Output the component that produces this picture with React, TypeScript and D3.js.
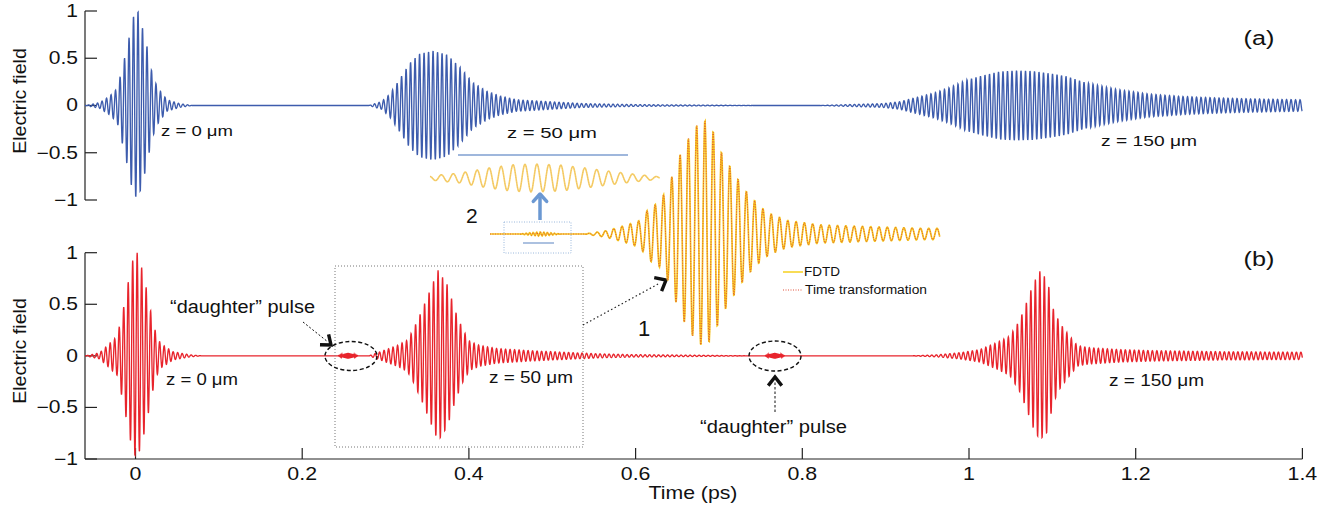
import * as d3 from 'd3';

// axis ticks
const xTicks = [0, 0.2, 0.4, 0.6, 0.8, 1, 1.2, 1.4];
const yTicks = [-1, -0.5, 0, 0.5, 1];

// carrier periods (ps)
const carrierPeriod = 0.0054;
const daughterPeriod = 0.0012;
const insetPeriod = 0.0056;
const inset2Period = 0.052; // normalised units of the small inset

// envelope knots: time (ps), amplitude, and the pulse centre
// panel (a): free-space propagation
const a0T = [-0.06, -0.043, -0.031, -0.022, -0.014, -0.008, -0.003, 0.003, 0.008, 0.014, 0.019, 0.025, 0.03, 0.038, 0.053, 0.068];
const a0A = [0, 0.03, 0.1, 0.18, 0.47, 0.71, 0.94, 1.0, 0.84, 0.62, 0.38, 0.22, 0.15, 0.06, 0.02, 0];
const a0C = 0.003;
const a1T = [0.28, 0.295, 0.305, 0.317, 0.329, 0.341, 0.357, 0.374, 0.39, 0.405, 0.422, 0.437, 0.458, 0.497, 0.537, 0.597, 0.65, 0.75];
const a1A = [0, 0.04, 0.12, 0.28, 0.45, 0.55, 0.58, 0.54, 0.4, 0.24, 0.15, 0.1, 0.06, 0.04, 0.02, 0.01, 0.006, 0];
const a1C = 0.357;
const a2T = [0.82, 0.857, 0.897, 0.917, 0.957, 0.977, 0.997, 1.017, 1.037, 1.057, 1.077, 1.097, 1.117, 1.137, 1.178, 1.217, 1.257, 1.297, 1.337, 1.4];
const a2A = [0, 0.01, 0.02, 0.04, 0.13, 0.19, 0.27, 0.32, 0.36, 0.37, 0.365, 0.34, 0.31, 0.25, 0.17, 0.12, 0.095, 0.08, 0.07, 0.06];
const a2C = 1.057;

// panel (b): time-varying medium
const b0T = [-0.06, -0.043, -0.031, -0.022, -0.014, -0.008, -0.003, 0.002, 0.008, 0.014, 0.019, 0.025, 0.03, 0.045, 0.065, 0.08];
const b0A = [0, 0.03, 0.12, 0.19, 0.48, 0.75, 0.94, 1.0, 0.84, 0.62, 0.4, 0.2, 0.12, 0.04, 0.01, 0];
const b0C = 0.002;
const bd1T = [0.243, 0.25, 0.255, 0.26, 0.267];
const bd1A = [0, 0.018, 0.03, 0.018, 0];
const bd1C = 0.255;
const b1T = [0.28, 0.297, 0.314, 0.326, 0.333, 0.344, 0.354, 0.363, 0.374, 0.384, 0.393, 0.401, 0.413, 0.434, 0.473, 0.513, 0.554, 0.593, 0.674, 0.74];
const b1A = [0, 0.05, 0.1, 0.15, 0.25, 0.45, 0.65, 0.83, 0.69, 0.43, 0.25, 0.14, 0.1, 0.07, 0.05, 0.035, 0.02, 0.012, 0.006, 0];
const b1C = 0.363;
const bd2T = [0.755, 0.762, 0.767, 0.772, 0.779];
const bd2A = [0, 0.018, 0.03, 0.018, 0];
const bd2C = 0.767;
const b2T = [0.93, 0.962, 0.989, 1.013, 1.034, 1.049, 1.061, 1.07, 1.077, 1.085, 1.094, 1.101, 1.109, 1.118, 1.13, 1.142, 1.181, 1.221, 1.301, 1.4];
const b2A = [0, 0.01, 0.03, 0.06, 0.13, 0.19, 0.35, 0.54, 0.7, 0.82, 0.74, 0.46, 0.32, 0.22, 0.1, 0.08, 0.06, 0.05, 0.04, 0.035];
const b2C = 1.085;

// inset 1 (zoom of the dotted box), normalised amplitude
const idT = [0.256, 0.264, 0.27, 0.276, 0.284];
const idA = [0, 0.012, 0.018, 0.012, 0];
const idC = 0.27;
const imT = [0.3, 0.315, 0.3285, 0.3373, 0.344, 0.3494, 0.3555, 0.3596, 0.3656, 0.3704, 0.3758, 0.3812, 0.3866, 0.3927, 0.398, 0.4028, 0.4082, 0.4136, 0.4197, 0.4251, 0.4365, 0.4588, 0.481, 0.504, 0.5284, 0.54];
const imA = [0, 0.03, 0.08, 0.12, 0.24, 0.27, 0.39, 0.53, 0.74, 0.85, 0.96, 1.0, 0.91, 0.71, 0.6, 0.5, 0.39, 0.31, 0.23, 0.18, 0.12, 0.08, 0.07, 0.06, 0.05, 0.05];
const imC = 0.3812;

// inset 2 (zoom of the daughter pulse)
const i2T = [0, 0.03, 0.13, 0.248, 0.361, 0.465, 0.565, 0.683, 0.796, 0.9, 0.987, 1];
const i2A = [0.12, 0.2, 0.35, 0.7, 0.95, 1, 0.93, 0.7, 0.45, 0.25, 0.1, 0.08];
const i2C = 0.465;

type Pulse = { t: number[]; a: number[]; c: number; p?: number };

const FONT = 'Liberation Sans, Arial, Helvetica, sans-serif';
const BLUE = '#3d5cad';
const RED = '#e8242c';

function buildTrace(pulses: Pulse[], t0: number, t1: number, period: number, steps = 20): [number, number][] {
  const envs = pulses.map((p) => ({
    env: d3.scaleLinear().domain(p.t).range(p.a).clamp(true),
    lo: p.t[0],
    hi: p.t[p.t.length - 1],
    c: p.c,
    per: p.p || period,
  }));
  const minPer = d3.min(envs, (e) => e.per) as number;
  const step = Math.min(period / steps, minPer / 6);
  return d3.range(t0, t1 + 1e-9, step).map((t) => {
    let v = 0;
    envs.forEach((e) => {
      if (t >= e.lo && t <= e.hi) v += e.env(t) * Math.cos((2 * Math.PI * (t - e.c)) / e.per);
    });
    return [t, v];
  });
}

function chevron(tx: number, ty: number, fx: number, fy: number, len: number, spread: number) {
  const a = Math.atan2(ty - fy, tx - fx);
  const s = (spread * Math.PI) / 180;
  const p1 = [tx - len * Math.cos(a - s), ty - len * Math.sin(a - s)];
  const p2 = [tx - len * Math.cos(a + s), ty - len * Math.sin(a + s)];
  return `${p1[0]},${p1[1]} ${tx},${ty} ${p2[0]},${p2[1]}`;
}

const Label = ({ x, y, size, sx = 1, anchor = 'start', rotate = 0, len, children }: any) => (
  <text
    transform={`translate(${x},${y}) rotate(${rotate}) scale(${sx},1)`}
    fontSize={size}
    textAnchor={anchor}
    dominantBaseline="central"
    fontFamily={FONT}
    fill="#111"
    textLength={len}
    lengthAdjust={len ? 'spacingAndGlyphs' : undefined}
  >
    {children}
  </text>
);

export default function App() {
  const x = d3.scaleLinear().domain([-0.0606, 1.4]).range([85, 1302.4]);
  const yA = d3.scaleLinear().domain([-1, 1]).range([200, 11]);
  const yB = d3.scaleLinear().domain([-1, 1]).range([459, 252.7]);

  const traceA = buildTrace(
    [
      { t: a0T, a: a0A, c: a0C },
      { t: a1T, a: a1A, c: a1C },
      { t: a2T, a: a2A, c: a2C },
    ],
    -0.0606, 1.4, carrierPeriod,
  );
  const traceB = buildTrace(
    [
      { t: b0T, a: b0A, c: b0C },
      { t: bd1T, a: bd1A, c: bd1C, p: daughterPeriod },
      { t: b1T, a: b1A, c: b1C },
      { t: bd2T, a: bd2A, c: bd2C, p: daughterPeriod },
      { t: b2T, a: b2A, c: b2C },
    ],
    -0.0606, 1.4, carrierPeriod,
  );

  const xi = d3.scaleLinear().domain([0.236, 0.54]).range([490, 940]);
  const yi = d3.scaleLinear().domain([-1, 1]).range([348, 120]);
  const traceI = buildTrace(
    [
      { t: idT, a: idA, c: idC, p: daughterPeriod * 2 },
      { t: imT, a: imA, c: imC },
    ],
    0.236, 0.54, insetPeriod,
  );
  const xi2 = d3.scaleLinear().domain([0, 1]).range([430, 660]);
  const yi2 = d3.scaleLinear().domain([-1, 1]).range([192, 164]);
  const traceI2 = buildTrace([{ t: i2T, a: i2A, c: i2C }], 0, 1, inset2Period, 24);

  const lineA = d3.line<[number, number]>().x((d) => x(d[0])).y((d) => yA(d[1]));
  const lineB = d3.line<[number, number]>().x((d) => x(d[0])).y((d) => yB(d[1]));
  const lineI = d3.line<[number, number]>().x((d) => xi(d[0])).y((d) => yi(d[1]));
  const lineI2 = d3.line<[number, number]>().x((d) => xi2(d[0])).y((d) => yi2(d[1])).curve(d3.curveCardinal);

  const fmt = (v: number) => (v < 0 ? '\u2212' + String(-v) : String(v));
  const axisCol = '#222';

  return (
    <svg width={1331} height={506} style={{ position: 'absolute', left: 0, top: 0, background: '#fff' }}>
      {/* axes panel (a) */}
      <line x1={85} x2={85} y1={yA(1)} y2={yA(-1)} stroke={axisCol} strokeWidth={1.2} />
      {yTicks.map((t) => (
        <g key={'ya' + t}>
          <line x1={85} x2={97} y1={yA(t)} y2={yA(t)} stroke={axisCol} strokeWidth={1.2} />
          <Label x={78} y={yA(t)} size={17.5} sx={1.2} anchor="end">{fmt(t)}</Label>
        </g>
      ))}
      {/* axes panel (b) */}
      <line x1={85} x2={85} y1={yB(1)} y2={yB(-1)} stroke={axisCol} strokeWidth={1.2} />
      <line x1={85} x2={x(1.4)} y1={yB(-1)} y2={yB(-1)} stroke={axisCol} strokeWidth={1.2} />
      {yTicks.map((t) => (
        <g key={'yb' + t}>
          <line x1={85} x2={97} y1={yB(t)} y2={yB(t)} stroke={axisCol} strokeWidth={1.2} />
          <Label x={78} y={yB(t)} size={17.5} sx={1.2} anchor="end">{fmt(t)}</Label>
        </g>
      ))}
      {xTicks.map((t) => (
        <g key={'x' + t}>
          <line x1={x(t)} x2={x(t)} y1={459} y2={448} stroke={axisCol} strokeWidth={1.2} />
          <Label x={x(t)} y={474} size={17.5} sx={1.22} anchor="middle">{String(t)}</Label>
        </g>
      ))}
      <Label x={693} y={493} size={18} sx={1.18} anchor="middle">Time (ps)</Label>
      <Label x={20} y={101} size={18.5} sx={1.06} anchor="middle" rotate={-90}>Electric field</Label>
      <Label x={20} y={351} size={18.5} sx={1.06} anchor="middle" rotate={-90}>Electric field</Label>
      <Label x={1259} y={38} size={21} sx={1.2} anchor="middle">(a)</Label>
      <Label x={1259} y={259} size={21} sx={1.2} anchor="middle">(b)</Label>

      {/* traces */}
      <path d={lineA(traceA) || ''} fill="none" stroke={BLUE} strokeWidth={1.35} />
      <path d={lineB(traceB) || ''} fill="none" stroke={RED} strokeWidth={1.35} />

      {/* z labels */}
      <Label x={161} y={130} size={15.5} len={72}>z = 0 μm</Label>
      <Label x={507} y={132} size={15.5} len={90}>z = 50 μm</Label>
      <Label x={1101} y={140} size={15.5} len={96}>z = 150 μm</Label>
      <Label x={166} y={379} size={16} len={72}>z = 0 μm</Label>
      <Label x={489} y={377} size={16} len={84}>z = 50 μm</Label>
      <Label x={1109} y={380} size={16} len={95}>z = 150 μm</Label>

      {/* dotted box and pointer to inset 1 */}
      <rect x={335} y={266} width={248} height={181} fill="none" stroke="#777" strokeWidth={1} strokeDasharray="1 2" />
      <line x1={583} y1={325} x2={660} y2={283} stroke="#222" strokeWidth={1.2} strokeDasharray="1.5 2.5" />
      <polyline points={chevron(666, 280, 583, 325, 12, 40)} fill="none" stroke="#111" strokeWidth={3.4} />

      {/* daughter pulse markers */}
      <ellipse cx={351} cy={356} rx={26} ry={14.5} fill="none" stroke="#111" strokeWidth={1.4} strokeDasharray="4 2.5" />
      <ellipse cx={775} cy={356} rx={26} ry={15} fill="none" stroke="#111" strokeWidth={1.4} strokeDasharray="4 2.5" />
      <line x1={303} y1={322} x2={328} y2={342} stroke="#111" strokeWidth={1} strokeDasharray="2 2" />
      <polyline points={chevron(331, 345, 303, 322, 11, 38)} fill="none" stroke="#111" strokeWidth={3.4} />
      <line x1={775} y1={412} x2={775} y2={382} stroke="#111" strokeWidth={1} strokeDasharray="2.5 2" />
      <polyline points={chevron(775, 377, 775, 412, 11, 38)} fill="none" stroke="#111" strokeWidth={3.4} />
      <Label x={170} y={307} size={17.5} len={145}>“daughter” pulse</Label>
      <Label x={700} y={427} size={17.5} len={147}>“daughter” pulse</Label>

      {/* inset 1 */}
      <path d={lineI(traceI) || ''} fill="none" stroke="#f6c81e" strokeWidth={1.7} />
      <path d={lineI(traceI) || ''} fill="none" stroke="#e2503a" strokeWidth={1} strokeDasharray="1 1.5" />
      <Label x={638} y={328} size={22}>1</Label>

      {/* inset 2 */}
      <line x1={458} x2={628} y1={155} y2={155} stroke="#7f9fd0" strokeWidth={1.3} />
      <path d={lineI2(traceI2) || ''} fill="none" stroke="#f4c640" strokeWidth={1.6} opacity={0.8} />
      <path d={lineI2(traceI2) || ''} fill="none" stroke="#e8a070" strokeWidth={0.8} strokeDasharray="1 1.5" opacity={0.6} />
      <rect x={504} y={222} width={67} height={31} fill="none" stroke="#9ab8dc" strokeWidth={1} strokeDasharray="1 1.5" />
      <line x1={523} x2={554} y1={243} y2={243} stroke="#7f9fd0" strokeWidth={1.3} />
      <line x1={540} x2={540} y1={220} y2={197} stroke="#6b98d2" strokeWidth={3.5} />
      <polyline points={chevron(540, 194, 540, 220, 10, 42)} fill="none" stroke="#6b98d2" strokeWidth={3.5} strokeLinecap="round" strokeLinejoin="round" />
      <Label x={466} y={215} size={21}>2</Label>

      {/* legend */}
      <line x1={783} x2={803} y1={272} y2={272} stroke="#f6d01e" strokeWidth={1.5} />
      <Label x={804} y={272} size={12} len={36}>FDTD</Label>
      <line x1={783} x2={803} y1={290} y2={290} stroke="#e2503a" strokeWidth={1} strokeDasharray="1 1.5" />
      <Label x={805} y={290} size={12} len={122}>Time transformation</Label>
    </svg>
  );
}
